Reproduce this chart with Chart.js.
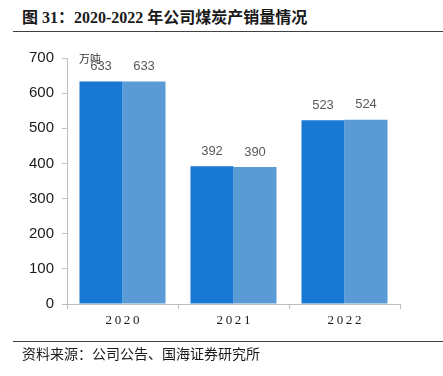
<!DOCTYPE html>
<html><head><meta charset="utf-8">
<script src="https://cdn.jsdelivr.net/npm/chart.js@4/dist/chart.umd.min.js"></script>
<style>
html,body{margin:0;padding:0;background:#fff;width:443px;height:376px;overflow:hidden;position:relative;}
#title{position:absolute;left:22px;top:4px;font:bold 16px "Liberation Serif","Noto Sans CJK SC";color:#1a1a1a;white-space:nowrap;}
#tline{position:absolute;left:13px;top:31px;width:430px;height:1px;background:#404040;}
#sline{position:absolute;left:13px;top:341px;width:430px;height:1px;background:#404040;}
#source{position:absolute;left:22px;top:343px;font:14px "Noto Sans CJK SC";color:#1a1a1a;white-space:nowrap;}
#unit{position:absolute;left:79px;top:50px;font:11px "Noto Sans CJK SC";color:#333;}
canvas{position:absolute;left:0;top:0;}
</style></head><body>
<div id="title">图 31：2020-2022 年公司煤炭产销量情况</div>
<div id="tline"></div>
<canvas id="c" width="443" height="376"></canvas>
<div id="unit">万吨</div>
<div id="sline"></div>
<div id="source">资料来源：公司公告、国海证券研究所</div>
<script>
const categories = ['2020','2021','2022'];
const production = [633, 392, 523];
const sales = [633, 390, 524];
const yTicks = [0,100,200,300,400,500,600,700];

const valueLabels = {
  id:'valueLabels',
  afterDatasetsDraw(chart){
    const ctx = chart.ctx;
    ctx.save();
    ctx.font = '13px "Liberation Sans", Arial';
    ctx.fillStyle = '#595959';
    ctx.textAlign = 'center';
    ctx.textBaseline = 'middle';
    chart.data.datasets.forEach((ds,i)=>{
      chart.getDatasetMeta(i).data.forEach((bar,j)=>{
        ctx.fillText(String(ds.data[j]), bar.x, bar.y - 15);
      });
    });
    ctx.restore();
  }
};

new Chart(document.getElementById('c'), {
  type:'bar',
  data:{
    labels: categories,
    datasets:[
      {label:'产量', data: production, backgroundColor:'#1878d4', categoryPercentage:0.775, barPercentage:1},
      {label:'销量', data: sales, backgroundColor:'#5b9bd5', categoryPercentage:0.775, barPercentage:1}
    ]
  },
  options:{
    responsive:false,
    animation:false,
    layout:{padding:{left:0,right:43,top:58,bottom:0}},
    plugins:{legend:{display:false},tooltip:{enabled:false}},
    scales:{
      x:{
        grid:{drawOnChartArea:false, drawTicks:true, tickLength:5, color:'#bfbfbf', offset:true},
        border:{color:'#bfbfbf'},
        ticks:{font:{family:'"Liberation Serif"', size:13}, color:'#1a1a1a', padding:4,
          callback:function(v,i){return categories[i].split('').join('\u2009');}},
        afterFit(s){ s.height = 72; }
      },
      y:{
        min:0,max:700,
        afterBuildTicks(s){ s.ticks = yTicks.map(v=>({value:v})); },
        grid:{drawOnChartArea:false, drawTicks:true, tickLength:5, color:'#bfbfbf'},
        border:{color:'#bfbfbf'},
        ticks:{font:{family:'"Liberation Sans", Arial', size:15}, color:'#1a1a1a', padding:8},
        afterFit(s){ s.width = 67; }
      }
    }
  },
  plugins:[valueLabels]
});
</script>
</body></html>
